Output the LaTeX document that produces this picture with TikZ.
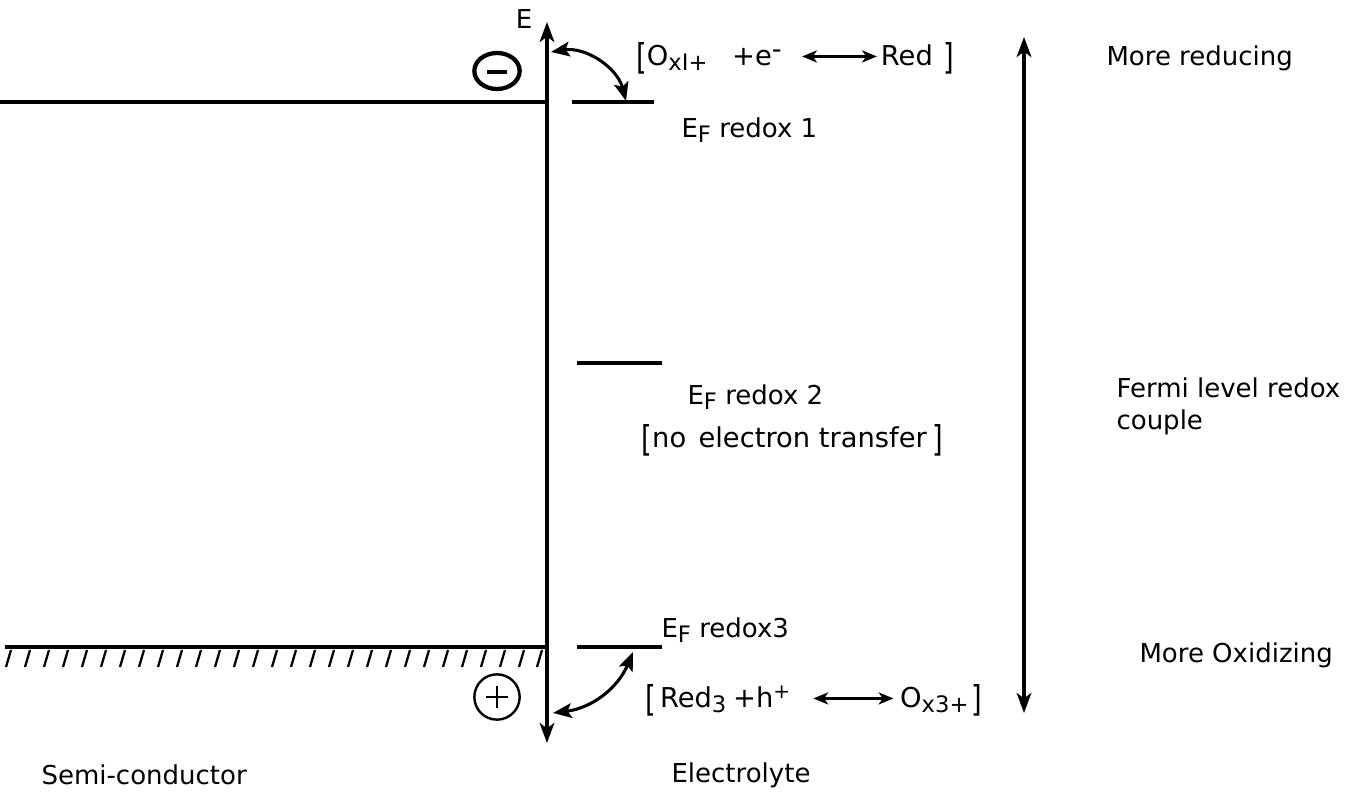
\documentclass[tikz,border=0pt]{standalone}
\usepackage{fontspec}
\setmainfont{DejaVu Sans}
\usetikzlibrary{arrows.meta,shapes.geometric}
\newcommand\lowsub[1]{\raisebox{-0.35ex}{\fontsize{17}{17}\selectfont #1}}
\newcommand\hisup[1]{\raisebox{0.6ex}{\fontsize{15}{15}\selectfont #1}}
\newcommand\lbr{\raisebox{-0.25ex}{\scalebox{1}[1.3]{[}}}
\newcommand\rbr{\raisebox{-0.25ex}{\scalebox{1}[1.3]{]}}}
\newcommand\eqarrow[1]{\tikz[baseline=-0.6ex]\draw[line width=2pt,{Stealth[length=11pt,width=9pt,inset=3pt]}-{Stealth[length=11pt,width=9pt,inset=3pt]}](0,0)--(#1,0);}
\begin{document}
\begin{tikzpicture}[x=0.75pt,y=-0.75pt,
  line width=2.3pt,
  lbl/.style={inner sep=0pt,font=\fontsize{19.5}{24}\selectfont,anchor=west},
  eqlbl/.style={inner sep=0pt,font=\fontsize{20.5}{24}\selectfont,anchor=west},
  dtip/.style={{Stealth[length=14pt,width=11pt,inset=3pt]}-{Stealth[length=14pt,width=11pt,inset=3pt]}},
  dtip2/.style={{Stealth[length=15pt,width=11pt,inset=4pt]}-{Stealth[length=15pt,width=11pt,inset=4pt]}}]
\useasboundingbox (0,0) rectangle (1350,798);
% axis
\coordinate (axtop) at (547,22);
\coordinate (axbot) at (547,743);
\draw[dtip2] (axbot) -- (axtop);
\node[lbl,anchor=center] (E) at (524,19) {E};
% band edges
\coordinate (cbl) at (0,102);
\coordinate (cbr) at (547,102);
\draw (cbl) -- (cbr);
\coordinate (vbl) at (5,647);
\coordinate (vbr) at (547,647);
\draw (vbl) -- (vbr);
\foreach \x in {6,25,44,63,82,101,120,139,158,177,196,215,234,253,272,291,310,329,348,367,386,405,424,443,462,481,500,519,537}
  \draw[line width=1.7pt] (\x,667) -- (\x+5,650);
% charges
\node[draw,ellipse,line width=3.2pt,minimum width=34pt,minimum height=27pt,inner sep=0pt] (minus) at (497,71) {};
\draw[line width=2.8pt] (487,72) -- (507,72);
\node[draw,circle,minimum size=34pt,inner sep=0pt,line width=1.8pt] (plus) at (497,697) {};
\draw[line width=1.8pt] (486,697) -- (508,697) (497,686) -- (497,708);
% redox levels
\coordinate (r1a) at (572,102); \coordinate (r1b) at (654,102);
\draw (r1a) -- (r1b);
\coordinate (r2a) at (577,363); \coordinate (r2b) at (662,363);
\draw (r2a) -- (r2b);
\coordinate (r3a) at (577,647); \coordinate (r3b) at (662,647);
\draw (r3a) -- (r3b);
% curved arrows
\coordinate (c1a) at (551,52); \coordinate (c1b) at (626,101);
\draw[dtip] (c1a) to[bend left=42] (c1b);
\coordinate (c2a) at (553,713); \coordinate (c2b) at (633,652);
\draw[dtip] (c2a) to[bend right=30] (c2b);
% labels
\node[eqlbl] (eq1) at (636,58) {\lbr O\lowsub{xI+}\hspace{0.9em}+e\raisebox{0.45ex}{-}\hspace{0.7em}\eqarrow{56pt}\hspace{0.1em}Red\hspace{0.4em}\rbr};
\node[lbl] (ef1) at (680,130) {E\lowsub{F} redox 1};
\node[lbl] (ef2) at (686,397) {E\lowsub{F} redox 2};
\node[eqlbl] (nt) at (640,440) {\lbr no\hspace{0.45em}electron transfer\hspace{0.2em}\rbr};
\node[lbl] (ef3) at (660,630) {E\lowsub{F} redox3};
\node[eqlbl] (eq3) at (645,700) {\lbr\hspace{0.15em}Red\lowsub{3}\hspace{0.25em}+h\hisup{+}\hspace{0.8em}\eqarrow{60pt}\hspace{0.2em}O\lowsub{x3+}\hspace{0.1em}\rbr};
% right arrow
\coordinate (ra) at (1024,37); \coordinate (rb) at (1024,713);
\draw[dtip2] (ra) -- (rb);
\node[lbl] (mr) at (1105,58) {More reducing};
\node[lbl,align=left,anchor=north west] (fl) at (1115,376) {Fermi level redox\\couple};
\node[lbl] (mo) at (1138,655) {More Oxidizing};
\node[lbl] (sc) at (40,775) {Semi-conductor};
\node[lbl] (el) at (670,775) {Electrolyte};
\end{tikzpicture}
\end{document}
